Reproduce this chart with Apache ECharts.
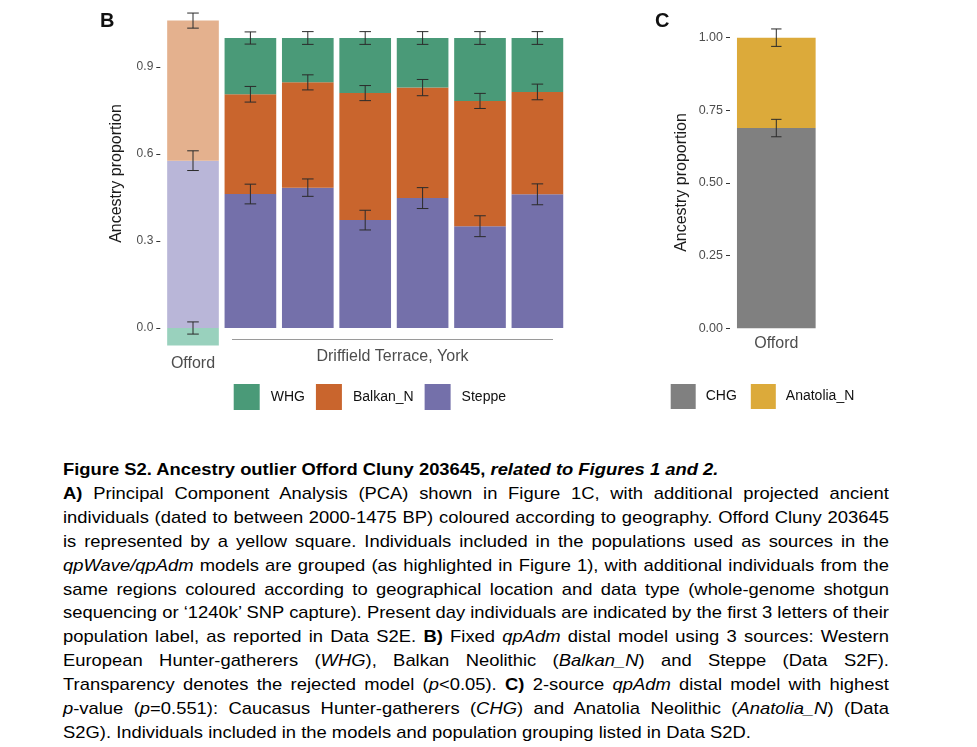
<!DOCTYPE html>
<html lang="en" style="height: 100%">

<head>
    <meta charset="utf-8">
    <style>
        body { margin: 0; background: #ffffff; font-family: "Liberation Sans", Arial, sans-serif; }
        #container { position: absolute; left: 0; top: 0; width: 977px; height: 440px; }
        /* the source caption is set a little wide, so stretch it horizontally */
        #caption { position: absolute; left: 63px; top: 458px; width: 727px; font-size: 16.2px; line-height: 23.9px; color: #000;
                   transform: scaleX(1.136); transform-origin: 0 0; }
        #caption div { white-space: nowrap; text-align: justify; text-align-last: justify; }
        #caption div.left { text-align: left; text-align-last: left; }
    </style>
</head>

<body>
    <div id="container"></div>
    <div id="caption">
        <div class="left"><b>Figure S2. Ancestry outlier Offord Cluny 203645, <i>related to Figures 1 and 2.</i></b></div>
        <div><b>A)</b> Principal Component Analysis (PCA) shown in Figure 1C, with additional projected ancient</div>
        <div>individuals (dated to between 2000-1475 BP) coloured according to geography. Offord Cluny 203645</div>
        <div>is represented by a yellow square. Individuals included in the populations used as sources in the</div>
        <div><i>qpWave/qpAdm</i> models are grouped (as highlighted in Figure 1), with additional individuals from the</div>
        <div>same regions coloured according to geographical location and data type (whole-genome shotgun</div>
        <div>sequencing or ‘1240k’ SNP capture). Present day individuals are indicated by the first 3 letters of their</div>
        <div>population label, as reported in Data S2E. <b>B)</b> Fixed <i>qpAdm</i> distal model using 3 sources: Western</div>
        <div>European Hunter-gatherers (<i>WHG</i>), Balkan Neolithic (<i>Balkan_N</i>) and Steppe (Data S2F).</div>
        <div>Transparency denotes the rejected model (<i>p</i>&lt;0.05). <b>C)</b> 2-source <i>qpAdm</i> distal model with highest</div>
        <div><i>p</i>-value (<i>p</i>=0.551): Caucasus Hunter-gatherers (<i>CHG</i>) and Anatolia Neolithic (<i>Anatolia_N</i>) (Data</div>
        <div class="left">S2G). Individuals included in the models and population grouping listed in Data S2D.</div>
    </div>

    <script type="text/javascript" src="https://cdn.jsdelivr.net/npm/echarts@6.0.0/dist/echarts.min.js"></script>
    <script type="text/javascript">
        // panel B: 3-source model
        var categoriesB = ['Offord', 'Driffield 1', 'Driffield 2', 'Driffield 3', 'Driffield 4', 'Driffield 5', 'Driffield 6'];
        var steppe = [0.577, 0.462, 0.484, 0.372, 0.448, 0.351, 0.461];
        var balkanN = [0.483, 0.344, 0.363, 0.438, 0.381, 0.432, 0.353];
        var whg = [-0.060, 0.194, 0.153, 0.190, 0.171, 0.217, 0.186];
        var steppeErr = [0.034, 0.034, 0.030, 0.034, 0.036, 0.036, 0.036];
        var balkanErr = [0.026, 0.027, 0.026, 0.026, 0.028, 0.026, 0.027];
        var whgErr = [0.021, 0.021, 0.022, 0.022, 0.022, 0.022, 0.022];
        var rejected = [true, false, false, false, false, false, false];
        var ticksB = [0, 0.3, 0.6, 0.9];

        // panel C: 2-source model
        var categoriesC = ['Offord'];
        var chg = [0.689];
        var anatoliaN = [0.311];
        var chgErr = [0.030];
        var anatoliaErr = [0.030];
        var ticksC = [0, 0.25, 0.5, 0.75, 1];

        var colors = {
            WHG: ['#4a9a78', '#99d1bd'],
            Balkan_N: ['#c9652d', '#e4b18e'],
            Steppe: ['#7470aa', '#b9b6d8'],
            CHG: '#808080',
            Anatolia_N: '#dcaa3a'
        };

        var dom = document.getElementById('container');
        var myChart = echarts.init(dom, null, { renderer: 'canvas' });

        function barData(values, name) {
            return values.map(function (v, i) {
                return { value: v, itemStyle: { color: colors[name][rejected[i] ? 1 : 0] } };
            });
        }

        // error bar sits on the upper edge of each segment
        var errB = [];
        categoriesB.forEach(function (c, i) {
            var pos = 0;
            [[steppe, steppeErr], [balkanN, balkanErr], [whg, whgErr]].forEach(function (s) {
                var v = s[0][i], e = s[1][i], edge;
                if (v >= 0) { pos += v; edge = pos; } else { edge = 0; }
                errB.push([i, edge - e, edge + e]);
            });
        });
        var errC = [];
        categoriesC.forEach(function (c, i) {
            var top1 = chg[i], top2 = chg[i] + anatoliaN[i];
            errC.push([i, top1 - chgErr[i], top1 + chgErr[i]]);
            errC.push([i, top2 - anatoliaErr[i], top2 + anatoliaErr[i]]);
        });

        function errRender(cap) {
            return function (params, api) {
                var lo = api.coord([api.value(0), api.value(1)]);
                var hi = api.coord([api.value(0), api.value(2)]);
                var st = { stroke: '#2b2b2b', lineWidth: 1 };
                return {
                    type: 'group',
                    children: [
                        { type: 'line', shape: { x1: lo[0], y1: lo[1], x2: hi[0], y2: hi[1] }, style: st },
                        { type: 'line', shape: { x1: lo[0] - cap, y1: lo[1], x2: lo[0] + cap, y2: lo[1] }, style: st },
                        { type: 'line', shape: { x1: hi[0] - cap, y1: hi[1], x2: hi[0] + cap, y2: hi[1] }, style: st }
                    ]
                };
            };
        }

        var labelGray = '#4d4d4d';
        var yAxisCommon = {
            type: 'value',
            splitLine: { show: false },
            axisLine: { show: false },
            axisTick: { show: true, length: 4, lineStyle: { color: '#333333' } },
            axisLabel: { color: labelGray, fontSize: 12, margin: 7, fontFamily: 'Liberation Sans' }
        };

        var option = {
            animation: false,
            textStyle: { fontFamily: 'Liberation Sans' },
            grid: [
                { left: 164.3, width: 401.8, top: 9, height: 342.2 },
                { left: 732.6, width: 87.4, top: 8.6, height: 319.7 }
            ],
            xAxis: [{
                type: 'category', gridIndex: 0, data: categoriesB,
                axisLine: { show: false }, axisTick: { show: false },
                axisLabel: {
                    color: labelGray, fontSize: 16, margin: 4,
                    formatter: function (v, i) { return i === 0 ? v : ''; }
                }
            }, {
                type: 'category', gridIndex: 1, data: categoriesC,
                axisLine: { show: false }, axisTick: { show: false },
                axisLabel: { color: labelGray, fontSize: 16, margin: 7 }
            }],
            yAxis: [
                Object.assign({}, yAxisCommon, {
                    gridIndex: 0, min: -0.08, max: 1.1, offset: 4,
                    axisTick: Object.assign({}, yAxisCommon.axisTick, { customValues: ticksB }),
                    axisLabel: Object.assign({}, yAxisCommon.axisLabel, {
                        customValues: ticksB,
                        formatter: function (v) { return v.toFixed(1); }
                    })
                }),
                Object.assign({}, yAxisCommon, {
                    gridIndex: 1, min: 0, max: 1.1, offset: 2.6,
                    axisTick: Object.assign({}, yAxisCommon.axisTick, { customValues: ticksC }),
                    axisLabel: Object.assign({}, yAxisCommon.axisLabel, {
                        fontSize: 12.5,
                        customValues: ticksC,
                        formatter: function (v) { return v.toFixed(2); }
                    })
                })
            ],
            legend: [{
                data: ['WHG', 'Balkan_N', 'Steppe'],
                left: 233.7, top: 384, padding: 0, itemWidth: 26, itemHeight: 26, itemGap: 11,
                icon: 'rect', selectedMode: false,
                textStyle: { fontSize: 14, color: '#111', padding: [0, 0, 0, 6] }
            }, {
                data: ['CHG', 'Anatolia_N'],
                left: 670.7, top: 384, padding: 0, itemWidth: 25, itemHeight: 25, itemGap: 14,
                icon: 'rect', selectedMode: false,
                textStyle: { fontSize: 14, color: '#111', padding: [0, 0, 0, 5] }
            }],
            series: [
                { name: 'Steppe', type: 'bar', stack: 'b', xAxisIndex: 0, yAxisIndex: 0, barWidth: '90%',
                  itemStyle: { color: colors.Steppe[0] }, data: barData(steppe, 'Steppe') },
                { name: 'Balkan_N', type: 'bar', stack: 'b', xAxisIndex: 0, yAxisIndex: 0, barWidth: '90%',
                  itemStyle: { color: colors.Balkan_N[0] }, data: barData(balkanN, 'Balkan_N') },
                { name: 'WHG', type: 'bar', stack: 'b', xAxisIndex: 0, yAxisIndex: 0, barWidth: '90%',
                  itemStyle: { color: colors.WHG[0] }, data: barData(whg, 'WHG') },
                { type: 'custom', xAxisIndex: 0, yAxisIndex: 0, renderItem: errRender(5.8), data: errB, z: 5 },
                { name: 'CHG', type: 'bar', stack: 'c', xAxisIndex: 1, yAxisIndex: 1, barWidth: '90%',
                  itemStyle: { color: colors.CHG }, data: chg },
                { name: 'Anatolia_N', type: 'bar', stack: 'c', xAxisIndex: 1, yAxisIndex: 1, barWidth: '90%',
                  itemStyle: { color: colors.Anatolia_N }, data: anatoliaN },
                { type: 'custom', xAxisIndex: 1, yAxisIndex: 1, renderItem: errRender(5.2), data: errC, z: 5 }
            ],
            graphic: [
                { type: 'text', left: 100, top: 11, style: { text: 'B', fontSize: 20, fontWeight: 'bold', fill: '#111' } },
                { type: 'text', left: 655, top: 11, style: { text: 'C', fontSize: 20, fontWeight: 'bold', fill: '#111' } },
                { type: 'text', x: 116.5, y: 173.5, rotation: Math.PI / 2,
                  style: { text: 'Ancestry proportion', fontSize: 16, fill: '#1a1a1a', align: 'center', verticalAlign: 'middle' } },
                { type: 'text', x: 681.7, y: 182.5, rotation: Math.PI / 2,
                  style: { text: 'Ancestry proportion', fontSize: 16, fill: '#1a1a1a', align: 'center', verticalAlign: 'middle' } },
                { type: 'line', shape: { x1: 232, y1: 339.5, x2: 553, y2: 339.5 }, style: { stroke: '#9a9a9a', lineWidth: 1 } },
                { type: 'text', x: 392.5, y: 357, style: { text: 'Driffield Terrace, York', fontSize: 16, fill: labelGray, align: 'center', verticalAlign: 'middle' } }
            ]
        };

        myChart.setOption(option);
        window.addEventListener('resize', myChart.resize);
    </script>
</body>

</html>
